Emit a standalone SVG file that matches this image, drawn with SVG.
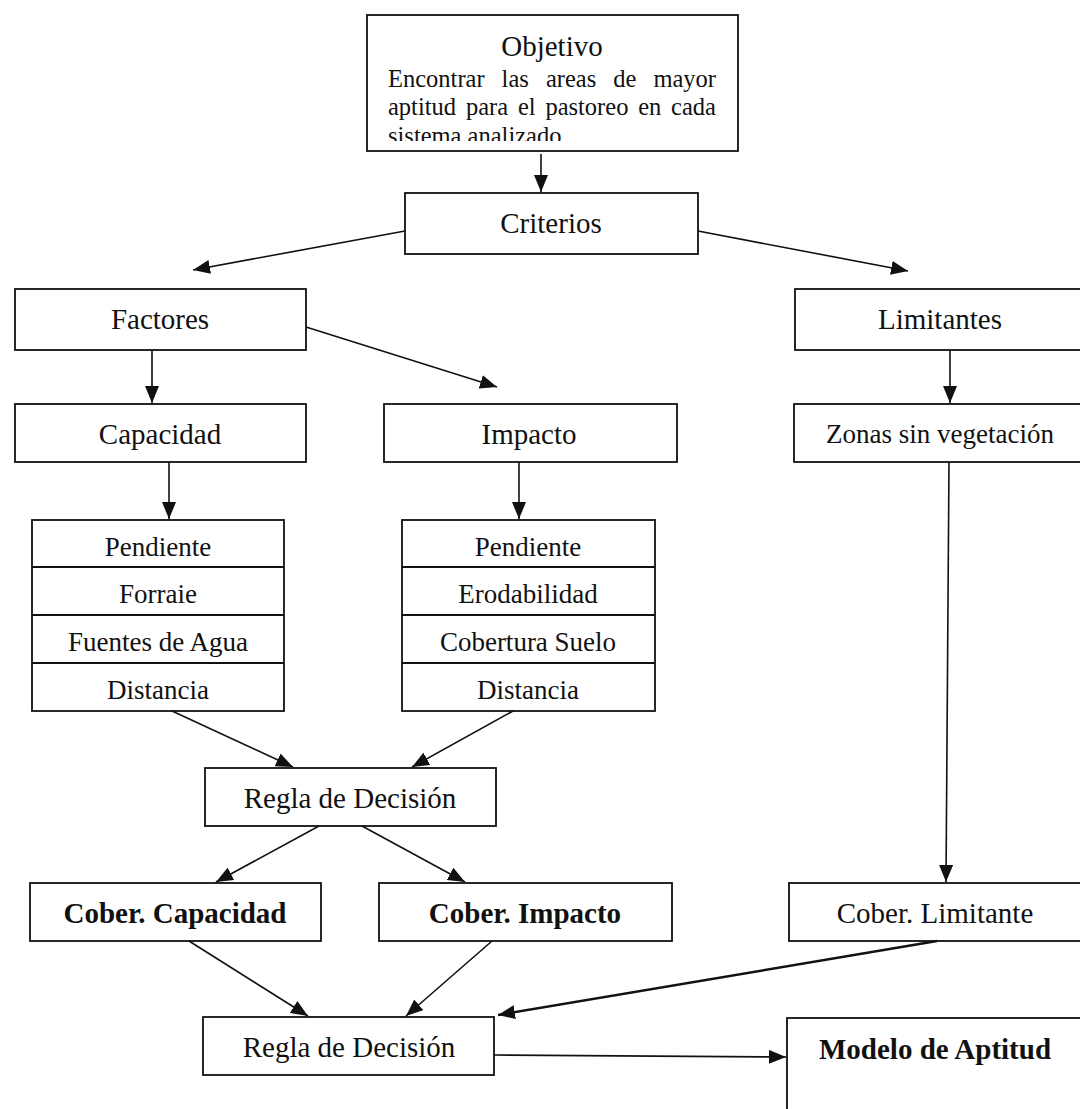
<svg xmlns="http://www.w3.org/2000/svg" width="1080" height="1109" viewBox="0 0 1080 1109">
<style>
  .box{fill:#fff;stroke:#111;stroke-width:1.8}
  .div{stroke:#111;stroke-width:1.8}
  .t{font-family:"Liberation Serif","Times New Roman",serif;font-size:29px;fill:#111;text-anchor:middle}
  .tb{font-weight:bold}
  .l{font-family:"Liberation Serif","Times New Roman",serif;font-size:27px;fill:#111;text-anchor:middle}
  .d{font-family:"Liberation Serif","Times New Roman",serif;font-size:24.5px;fill:#111}
  .c{stroke:#111;stroke-width:1.6;fill:none;marker-end:url(#ah)}
  .thick{stroke-width:2.4}
</style>
<defs>
  <marker id="ah" markerUnits="userSpaceOnUse" markerWidth="17" markerHeight="14" refX="17" refY="7" orient="auto">
    <path d="M0,0 L17,7 L0,14 Z" fill="#111"/>
  </marker>
  <clipPath id="objclip"><rect x="367" y="15" width="371" height="126"/></clipPath>
</defs>
<rect width="1080" height="1109" fill="#fff"/>

<g id="objetivo">
  <rect class="box" x="367" y="15" width="371" height="136"/>
  <text class="t" x="552" y="56">Objetivo</text>
  <g clip-path="url(#objclip)">
    <text class="d" y="87"><tspan x="388">Encontrar</tspan><tspan x="501.6">las</tspan><tspan x="545.9">areas</tspan><tspan x="613.2">de</tspan><tspan x="653.4">mayor</tspan></text>
    <text class="d" y="115"><tspan x="388">aptitud</tspan><tspan x="465.9">para</tspan><tspan x="517.9">el</tspan><tspan x="545.4">pastoreo</tspan><tspan x="638.2">en</tspan><tspan x="671.1">cada</tspan></text>
    <text class="d" x="388" y="144">sistema analizado</text>
  </g>
</g>

<g id="criterios">
  <rect class="box" x="405" y="193" width="293" height="61"/>
  <text class="t" x="551" y="233">Criterios</text>
</g>

<g id="factores">
  <rect class="box" x="15" y="289" width="291" height="61"/>
  <text class="t" x="160" y="329">Factores</text>
</g>

<g id="limitantes">
  <rect class="box" x="795" y="289" width="300" height="61"/>
  <text class="t" x="940" y="329">Limitantes</text>
</g>

<g id="capacidad">
  <rect class="box" x="15" y="404" width="291" height="58"/>
  <text class="t" x="160" y="444">Capacidad</text>
</g>

<g id="impacto">
  <rect class="box" x="384" y="404" width="293" height="58"/>
  <text class="t" x="529" y="444">Impacto</text>
</g>

<g id="zonas">
  <rect class="box" x="794" y="404" width="300" height="58"/>
  <text class="l" x="940" y="443">Zonas sin vegetación</text>
</g>

<g id="lista-capacidad">
  <rect class="box" x="32" y="520" width="252" height="191"/>
  <line class="div" x1="32" y1="567" x2="284" y2="567"/>
  <line class="div" x1="32" y1="615" x2="284" y2="615"/>
  <line class="div" x1="32" y1="663" x2="284" y2="663"/>
  <text class="l" x="158" y="556">Pendiente</text>
  <text class="l" x="158" y="603">Forraie</text>
  <text class="l" x="158" y="651">Fuentes de Agua</text>
  <text class="l" x="158" y="699">Distancia</text>
</g>

<g id="lista-impacto">
  <rect class="box" x="402" y="520" width="253" height="191"/>
  <line class="div" x1="402" y1="567" x2="655" y2="567"/>
  <line class="div" x1="402" y1="615" x2="655" y2="615"/>
  <line class="div" x1="402" y1="663" x2="655" y2="663"/>
  <text class="l" x="528" y="556">Pendiente</text>
  <text class="l" x="528" y="603">Erodabilidad</text>
  <text class="l" x="528" y="651">Cobertura Suelo</text>
  <text class="l" x="528" y="699">Distancia</text>
</g>

<g id="regla1">
  <rect class="box" x="205" y="768" width="291" height="58"/>
  <text class="t" x="350" y="808">Regla de Decisión</text>
</g>

<g id="cober-capacidad">
  <rect class="box" x="30" y="883" width="291" height="58"/>
  <text class="t tb" x="175" y="923">Cober. Capacidad</text>
</g>

<g id="cober-impacto">
  <rect class="box" x="379" y="883" width="293" height="58"/>
  <text class="t tb" x="525" y="923">Cober. Impacto</text>
</g>

<g id="cober-limitante">
  <rect class="box" x="789" y="883" width="300" height="58"/>
  <text class="t" x="935" y="923">Cober. Limitante</text>
</g>

<g id="regla2">
  <rect class="box" x="203" y="1017" width="291" height="58"/>
  <text class="t" x="349" y="1057">Regla de Decisión</text>
</g>

<g id="modelo">
  <rect class="box" x="787" y="1018" width="300" height="110"/>
  <text class="t tb" x="935" y="1059">Modelo de Aptitud</text>
</g>

<g id="connectors">
  <line class="c" x1="541" y1="154" x2="541" y2="192"/>
  <line class="c" x1="405" y1="231" x2="193" y2="270"/>
  <line class="c" x1="698" y1="231" x2="908" y2="271"/>
  <line class="c" x1="152" y1="350" x2="152" y2="403"/>
  <line class="c" x1="306" y1="327" x2="497" y2="387"/>
  <line class="c" x1="950" y1="350" x2="950" y2="403"/>
  <line class="c" x1="169" y1="462" x2="169" y2="519"/>
  <line class="c" x1="519" y1="462" x2="519" y2="519"/>
  <line class="c" x1="172" y1="711" x2="293" y2="767"/>
  <line class="c" x1="513" y1="711" x2="412" y2="767"/>
  <line class="c" x1="319" y1="826" x2="216" y2="882"/>
  <line class="c" x1="362" y1="826" x2="465" y2="882"/>
  <line class="c" x1="949" y1="462" x2="946" y2="882"/>
  <line class="c" x1="189" y1="941" x2="308" y2="1016"/>
  <line class="c" x1="492" y1="941" x2="406" y2="1016"/>
  <line class="c thick" x1="937" y1="941" x2="498" y2="1015"/>
  <line class="c" x1="494" y1="1055" x2="786" y2="1057"/>
</g>
</svg>
